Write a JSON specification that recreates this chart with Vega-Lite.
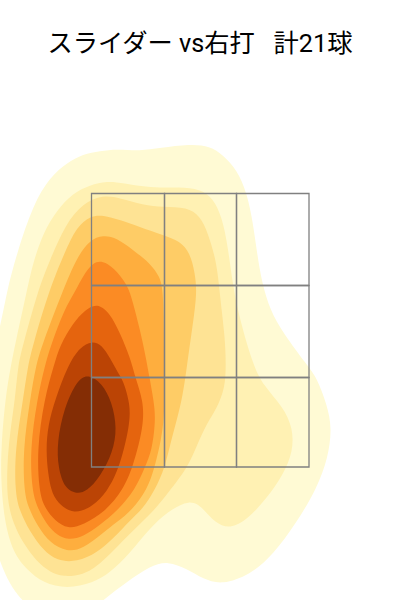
{"$schema":"https://vega.github.io/schema/vega-lite/v6.json","width":400,"height":600,"padding":0,"autosize":"none","background":"white","view":{"stroke":null},
"title":{"text":"スライダー vs右打\u00a0\u00a0\u00a0計21球","font":"Roboto, Noto Sans CJK JP","fontSize":25.25,"fontWeight":"normal","color":"#000000","anchor":"middle","frame":"group","orient":"top","offset":-57},
"layer":[
{"data":{"values":[
{"l":1,"i":0,"x":-2.0,"y":0.27},{"l":1,"i":1,"x":-1.78,"y":0},{"l":1,"i":2,"x":-1.6,"y":-0.2},{"l":1,"i":3,"x":-1.2,"y":-0.2},{"l":1,"i":4,"x":-0.97,"y":0},{"l":1,"i":5,"x":-0.73,"y":0.18},{"l":1,"i":6,"x":-0.5,"y":0.34},{"l":1,"i":7,"x":-0.32,"y":0.39},{"l":1,"i":8,"x":-0.13,"y":0.31},{"l":1,"i":9,"x":0.03,"y":0.21},{"l":1,"i":10,"x":0.22,"y":0.15},{"l":1,"i":11,"x":0.5,"y":0.25},{"l":1,"i":12,"x":0.73,"y":0.45},{"l":1,"i":13,"x":0.97,"y":0.78},{"l":1,"i":14,"x":1.17,"y":1.12},{"l":1,"i":15,"x":1.28,"y":1.42},{"l":1,"i":16,"x":1.32,"y":1.72},{"l":1,"i":17,"x":1.27,"y":1.95},{"l":1,"i":18,"x":1.17,"y":2.22},{"l":1,"i":19,"x":1.07,"y":2.35},{"l":1,"i":20,"x":0.83,"y":2.67},{"l":1,"i":21,"x":0.7,"y":2.9},{"l":1,"i":22,"x":0.62,"y":3.17},{"l":1,"i":23,"x":0.57,"y":3.47},{"l":1,"i":24,"x":0.53,"y":3.77},{"l":1,"i":25,"x":0.47,"y":4.07},{"l":1,"i":26,"x":0.37,"y":4.3},{"l":1,"i":27,"x":0.23,"y":4.45},{"l":1,"i":28,"x":0.1,"y":4.54},{"l":1,"i":29,"x":-0.1,"y":4.56},{"l":1,"i":30,"x":-0.4,"y":4.52},{"l":1,"i":31,"x":-0.6,"y":4.49},{"l":1,"i":32,"x":-0.83,"y":4.51},{"l":1,"i":33,"x":-1.0,"y":4.49},{"l":1,"i":34,"x":-1.17,"y":4.46},{"l":1,"i":35,"x":-1.33,"y":4.37},{"l":1,"i":36,"x":-1.5,"y":4.23},{"l":1,"i":37,"x":-1.67,"y":3.95},{"l":1,"i":38,"x":-1.83,"y":3.47},{"l":1,"i":39,"x":-1.93,"y":3.1},{"l":1,"i":40,"x":-2.0,"y":2.7},{"l":1,"i":41,"x":-2.3,"y":1.5},
{"l":2,"i":0,"x":-1.96,"y":0.8},{"l":2,"i":1,"x":-1.87,"y":0.47},{"l":2,"i":2,"x":-1.73,"y":0.3},{"l":2,"i":3,"x":-1.57,"y":0.17},{"l":2,"i":4,"x":-1.33,"y":0.11},{"l":2,"i":5,"x":-1.07,"y":0.17},{"l":2,"i":6,"x":-0.9,"y":0.27},{"l":2,"i":7,"x":-0.7,"y":0.47},{"l":2,"i":8,"x":-0.5,"y":0.72},{"l":2,"i":9,"x":-0.33,"y":0.88},{"l":2,"i":10,"x":-0.1,"y":1.01},{"l":2,"i":11,"x":0.03,"y":0.92},{"l":2,"i":12,"x":0.15,"y":0.77},{"l":2,"i":13,"x":0.3,"y":0.71},{"l":2,"i":14,"x":0.47,"y":0.8},{"l":2,"i":15,"x":0.67,"y":1.02},{"l":2,"i":16,"x":0.83,"y":1.25},{"l":2,"i":17,"x":0.93,"y":1.48},{"l":2,"i":18,"x":0.93,"y":1.72},{"l":2,"i":19,"x":0.83,"y":1.93},{"l":2,"i":20,"x":0.63,"y":2.15},{"l":2,"i":21,"x":0.53,"y":2.35},{"l":2,"i":22,"x":0.4,"y":2.8},{"l":2,"i":23,"x":0.33,"y":3.13},{"l":2,"i":24,"x":0.28,"y":3.53},{"l":2,"i":25,"x":0.22,"y":3.83},{"l":2,"i":26,"x":0.13,"y":4.02},{"l":2,"i":27,"x":0.0,"y":4.11},{"l":2,"i":28,"x":-0.2,"y":4.13},{"l":2,"i":29,"x":-0.5,"y":4.12},{"l":2,"i":30,"x":-0.77,"y":4.17},{"l":2,"i":31,"x":-0.93,"y":4.19},{"l":2,"i":32,"x":-1.1,"y":4.15},{"l":2,"i":33,"x":-1.27,"y":4.07},{"l":2,"i":34,"x":-1.43,"y":3.9},{"l":2,"i":35,"x":-1.57,"y":3.67},{"l":2,"i":36,"x":-1.67,"y":3.37},{"l":2,"i":37,"x":-1.73,"y":3.1},{"l":2,"i":38,"x":-1.85,"y":2.55},{"l":2,"i":39,"x":-1.89,"y":2.35},{"l":2,"i":40,"x":-1.95,"y":2.0},{"l":2,"i":41,"x":-1.99,"y":1.5},{"l":2,"i":42,"x":-1.99,"y":1.2},
{"l":3,"i":0,"x":-1.62,"y":3.1},{"l":3,"i":1,"x":-1.5,"y":3.4},{"l":3,"i":2,"x":-1.35,"y":3.75},{"l":3,"i":3,"x":-1.17,"y":3.97},{"l":3,"i":4,"x":-0.97,"y":4.05},{"l":3,"i":5,"x":-0.8,"y":4.02},{"l":3,"i":6,"x":-0.57,"y":3.95},{"l":3,"i":7,"x":-0.37,"y":3.93},{"l":3,"i":8,"x":-0.13,"y":3.93},{"l":3,"i":9,"x":0.0,"y":3.84},{"l":3,"i":10,"x":0.08,"y":3.67},{"l":3,"i":11,"x":0.17,"y":3.37},{"l":3,"i":12,"x":0.2,"y":3.03},{"l":3,"i":13,"x":0.25,"y":2.63},{"l":3,"i":14,"x":0.26,"y":2.35},{"l":3,"i":15,"x":0.25,"y":2.12},{"l":3,"i":16,"x":0.17,"y":1.92},{"l":3,"i":17,"x":0.07,"y":1.77},{"l":3,"i":18,"x":-0.03,"y":1.55},{"l":3,"i":19,"x":-0.12,"y":1.33},{"l":3,"i":20,"x":-0.3,"y":1.1},{"l":3,"i":21,"x":-0.45,"y":0.9},{"l":3,"i":22,"x":-0.7,"y":0.67},{"l":3,"i":23,"x":-1.0,"y":0.35},{"l":3,"i":24,"x":-1.17,"y":0.25},{"l":3,"i":25,"x":-1.37,"y":0.23},{"l":3,"i":26,"x":-1.5,"y":0.28},{"l":3,"i":27,"x":-1.63,"y":0.38},{"l":3,"i":28,"x":-1.77,"y":0.57},{"l":3,"i":29,"x":-1.87,"y":0.77},{"l":3,"i":30,"x":-1.93,"y":1.0},{"l":3,"i":31,"x":-1.93,"y":1.35},{"l":3,"i":32,"x":-1.9,"y":1.68},{"l":3,"i":33,"x":-1.85,"y":2.0},{"l":3,"i":34,"x":-1.82,"y":2.35},{"l":3,"i":35,"x":-1.77,"y":2.55},
{"l":4,"i":0,"x":-1.51,"y":3.1},{"l":4,"i":1,"x":-1.33,"y":3.53},{"l":4,"i":2,"x":-1.23,"y":3.73},{"l":4,"i":3,"x":-1.1,"y":3.84},{"l":4,"i":4,"x":-0.97,"y":3.85},{"l":4,"i":5,"x":-0.8,"y":3.8},{"l":4,"i":6,"x":-0.6,"y":3.73},{"l":4,"i":7,"x":-0.37,"y":3.65},{"l":4,"i":8,"x":-0.2,"y":3.59},{"l":4,"i":9,"x":-0.1,"y":3.47},{"l":4,"i":10,"x":-0.05,"y":3.27},{"l":4,"i":11,"x":-0.03,"y":3.07},{"l":4,"i":12,"x":-0.07,"y":2.77},{"l":4,"i":13,"x":-0.13,"y":2.35},{"l":4,"i":14,"x":-0.17,"y":2.05},{"l":4,"i":15,"x":-0.24,"y":1.77},{"l":4,"i":16,"x":-0.3,"y":1.55},{"l":4,"i":17,"x":-0.35,"y":1.33},{"l":4,"i":18,"x":-0.45,"y":1.1},{"l":4,"i":19,"x":-0.58,"y":0.9},{"l":4,"i":20,"x":-0.7,"y":0.8},{"l":4,"i":21,"x":-0.85,"y":0.63},{"l":4,"i":22,"x":-1.03,"y":0.47},{"l":4,"i":23,"x":-1.23,"y":0.38},{"l":4,"i":24,"x":-1.43,"y":0.39},{"l":4,"i":25,"x":-1.57,"y":0.5},{"l":4,"i":26,"x":-1.7,"y":0.68},{"l":4,"i":27,"x":-1.81,"y":0.9},{"l":4,"i":28,"x":-1.85,"y":1.1},{"l":4,"i":29,"x":-1.85,"y":1.5},{"l":4,"i":30,"x":-1.77,"y":2.0},{"l":4,"i":31,"x":-1.72,"y":2.35},{"l":4,"i":32,"x":-1.67,"y":2.55},
{"l":5,"i":0,"x":-1.37,"y":3.1},{"l":5,"i":1,"x":-1.23,"y":3.43},{"l":5,"i":2,"x":-1.1,"y":3.6},{"l":5,"i":3,"x":-0.97,"y":3.65},{"l":5,"i":4,"x":-0.83,"y":3.62},{"l":5,"i":5,"x":-0.67,"y":3.5},{"l":5,"i":6,"x":-0.5,"y":3.37},{"l":5,"i":7,"x":-0.4,"y":3.23},{"l":5,"i":8,"x":-0.37,"y":3.1},{"l":5,"i":9,"x":-0.36,"y":2.7},{"l":5,"i":10,"x":-0.36,"y":2.2},{"l":5,"i":11,"x":-0.35,"y":1.77},{"l":5,"i":12,"x":-0.45,"y":1.33},{"l":5,"i":13,"x":-0.53,"y":1.1},{"l":5,"i":14,"x":-0.68,"y":0.9},{"l":5,"i":15,"x":-0.83,"y":0.78},{"l":5,"i":16,"x":-0.97,"y":0.67},{"l":5,"i":17,"x":-1.17,"y":0.51},{"l":5,"i":18,"x":-1.33,"y":0.48},{"l":5,"i":19,"x":-1.5,"y":0.57},{"l":5,"i":20,"x":-1.62,"y":0.73},{"l":5,"i":21,"x":-1.72,"y":0.93},{"l":5,"i":22,"x":-1.76,"y":1.1},{"l":5,"i":23,"x":-1.77,"y":1.5},{"l":5,"i":24,"x":-1.7,"y":2.0},{"l":5,"i":25,"x":-1.64,"y":2.35},{"l":5,"i":26,"x":-1.58,"y":2.55},
{"l":6,"i":0,"x":-1.24,"y":3.1},{"l":6,"i":1,"x":-1.17,"y":3.24},{"l":6,"i":2,"x":-1.07,"y":3.38},{"l":6,"i":3,"x":-0.97,"y":3.39},{"l":6,"i":4,"x":-0.87,"y":3.33},{"l":6,"i":5,"x":-0.72,"y":3.15},{"l":6,"i":6,"x":-0.67,"y":2.97},{"l":6,"i":7,"x":-0.6,"y":2.7},{"l":6,"i":8,"x":-0.55,"y":2.47},{"l":6,"i":9,"x":-0.5,"y":2.2},{"l":6,"i":10,"x":-0.45,"y":1.92},{"l":6,"i":11,"x":-0.45,"y":1.75},{"l":6,"i":12,"x":-0.48,"y":1.5},{"l":6,"i":13,"x":-0.55,"y":1.33},{"l":6,"i":14,"x":-0.65,"y":1.1},{"l":6,"i":15,"x":-0.82,"y":0.9},{"l":6,"i":16,"x":-1.0,"y":0.75},{"l":6,"i":17,"x":-1.17,"y":0.63},{"l":6,"i":18,"x":-1.32,"y":0.6},{"l":6,"i":19,"x":-1.43,"y":0.65},{"l":6,"i":20,"x":-1.53,"y":0.75},{"l":6,"i":21,"x":-1.63,"y":0.93},{"l":6,"i":22,"x":-1.68,"y":1.1},{"l":6,"i":23,"x":-1.7,"y":1.5},{"l":6,"i":24,"x":-1.63,"y":2.0},{"l":6,"i":25,"x":-1.55,"y":2.35},{"l":6,"i":26,"x":-1.49,"y":2.55},{"l":6,"i":27,"x":-1.36,"y":2.9},
{"l":7,"i":0,"x":-1.46,"y":2.35},{"l":7,"i":1,"x":-1.4,"y":2.55},{"l":7,"i":2,"x":-1.27,"y":2.77},{"l":7,"i":3,"x":-1.15,"y":2.9},{"l":7,"i":4,"x":-1.03,"y":2.97},{"l":7,"i":5,"x":-0.9,"y":2.87},{"l":7,"i":6,"x":-0.8,"y":2.67},{"l":7,"i":7,"x":-0.7,"y":2.43},{"l":7,"i":8,"x":-0.64,"y":2.2},{"l":7,"i":9,"x":-0.57,"y":2.0},{"l":7,"i":10,"x":-0.56,"y":1.75},{"l":7,"i":11,"x":-0.67,"y":1.33},{"l":7,"i":12,"x":-0.77,"y":1.1},{"l":7,"i":13,"x":-0.95,"y":0.88},{"l":7,"i":14,"x":-1.17,"y":0.75},{"l":7,"i":15,"x":-1.32,"y":0.71},{"l":7,"i":16,"x":-1.45,"y":0.79},{"l":7,"i":17,"x":-1.56,"y":0.93},{"l":7,"i":18,"x":-1.61,"y":1.1},{"l":7,"i":19,"x":-1.63,"y":1.5},{"l":7,"i":20,"x":-1.56,"y":2.0},
{"l":8,"i":0,"x":-1.32,"y":2.35},{"l":8,"i":1,"x":-1.2,"y":2.53},{"l":8,"i":2,"x":-1.08,"y":2.59},{"l":8,"i":3,"x":-0.98,"y":2.55},{"l":8,"i":4,"x":-0.9,"y":2.42},{"l":8,"i":5,"x":-0.82,"y":2.27},{"l":8,"i":6,"x":-0.77,"y":2.2},{"l":8,"i":7,"x":-0.71,"y":2.0},{"l":8,"i":8,"x":-0.69,"y":1.8},{"l":8,"i":9,"x":-0.8,"y":1.33},{"l":8,"i":10,"x":-0.93,"y":1.08},{"l":8,"i":11,"x":-1.07,"y":0.94},{"l":8,"i":12,"x":-1.26,"y":0.85},{"l":8,"i":13,"x":-1.43,"y":0.97},{"l":8,"i":14,"x":-1.49,"y":1.1},{"l":8,"i":15,"x":-1.52,"y":1.27},{"l":8,"i":16,"x":-1.54,"y":1.5},{"l":8,"i":17,"x":-1.52,"y":1.75},{"l":8,"i":18,"x":-1.45,"y":2.0},
{"l":9,"i":0,"x":-1.12,"y":2.26},{"l":9,"i":1,"x":-0.98,"y":2.17},{"l":9,"i":2,"x":-0.88,"y":1.98},{"l":9,"i":3,"x":-0.83,"y":1.72},{"l":9,"i":4,"x":-0.87,"y":1.48},{"l":9,"i":5,"x":-1.0,"y":1.23},{"l":9,"i":6,"x":-1.13,"y":1.09},{"l":9,"i":7,"x":-1.23,"y":1.06},{"l":9,"i":8,"x":-1.35,"y":1.11},{"l":9,"i":9,"x":-1.42,"y":1.32},{"l":9,"i":10,"x":-1.43,"y":1.58},{"l":9,"i":11,"x":-1.36,"y":1.92},{"l":9,"i":12,"x":-1.23,"y":2.2}
]},
"mark":{"type":"line","filled":true,"interpolate":"basis-closed","strokeWidth":0,"clip":true},
"encoding":{
"x":{"field":"x","type":"quantitative","scale":{"domain":[-2,2],"nice":false,"zero":false},"axis":null},
"y":{"field":"y","type":"quantitative","scale":{"domain":[0,6],"nice":false,"zero":false},"axis":null},
"order":{"field":"i","type":"quantitative"},
"color":{"field":"l","type":"ordinal","legend":null,"scale":{"domain":[1,2,3,4,5,6,7,8,9],"range":["#FFFAD4","#FFF1B3","#FEE394","#FECC66","#FEAE3E","#FB8B24","#E5640E","#BB4405","#842D05"]}}
}},
{"data":{"values":[
{"x":-1.085,"x2":-0.355,"y":1.33,"y2":2.225},{"x":-0.355,"x2":0.365,"y":1.33,"y2":2.225},{"x":0.365,"x2":1.09,"y":1.33,"y2":2.225},
{"x":-1.085,"x2":-0.355,"y":2.225,"y2":3.145},{"x":-0.355,"x2":0.365,"y":2.225,"y2":3.145},{"x":0.365,"x2":1.09,"y":2.225,"y2":3.145},
{"x":-1.085,"x2":-0.355,"y":3.145,"y2":4.065},{"x":-0.355,"x2":0.365,"y":3.145,"y2":4.065},{"x":0.365,"x2":1.09,"y":3.145,"y2":4.065}
]},
"mark":{"type":"rect","fill":null,"filled":false,"stroke":"#808080","strokeWidth":1.3},
"encoding":{
"x":{"field":"x","type":"quantitative","scale":{"domain":[-2,2],"nice":false,"zero":false},"axis":null},
"x2":{"field":"x2"},
"y":{"field":"y","type":"quantitative","scale":{"domain":[0,6],"nice":false,"zero":false},"axis":null},
"y2":{"field":"y2"}
}}
]}
